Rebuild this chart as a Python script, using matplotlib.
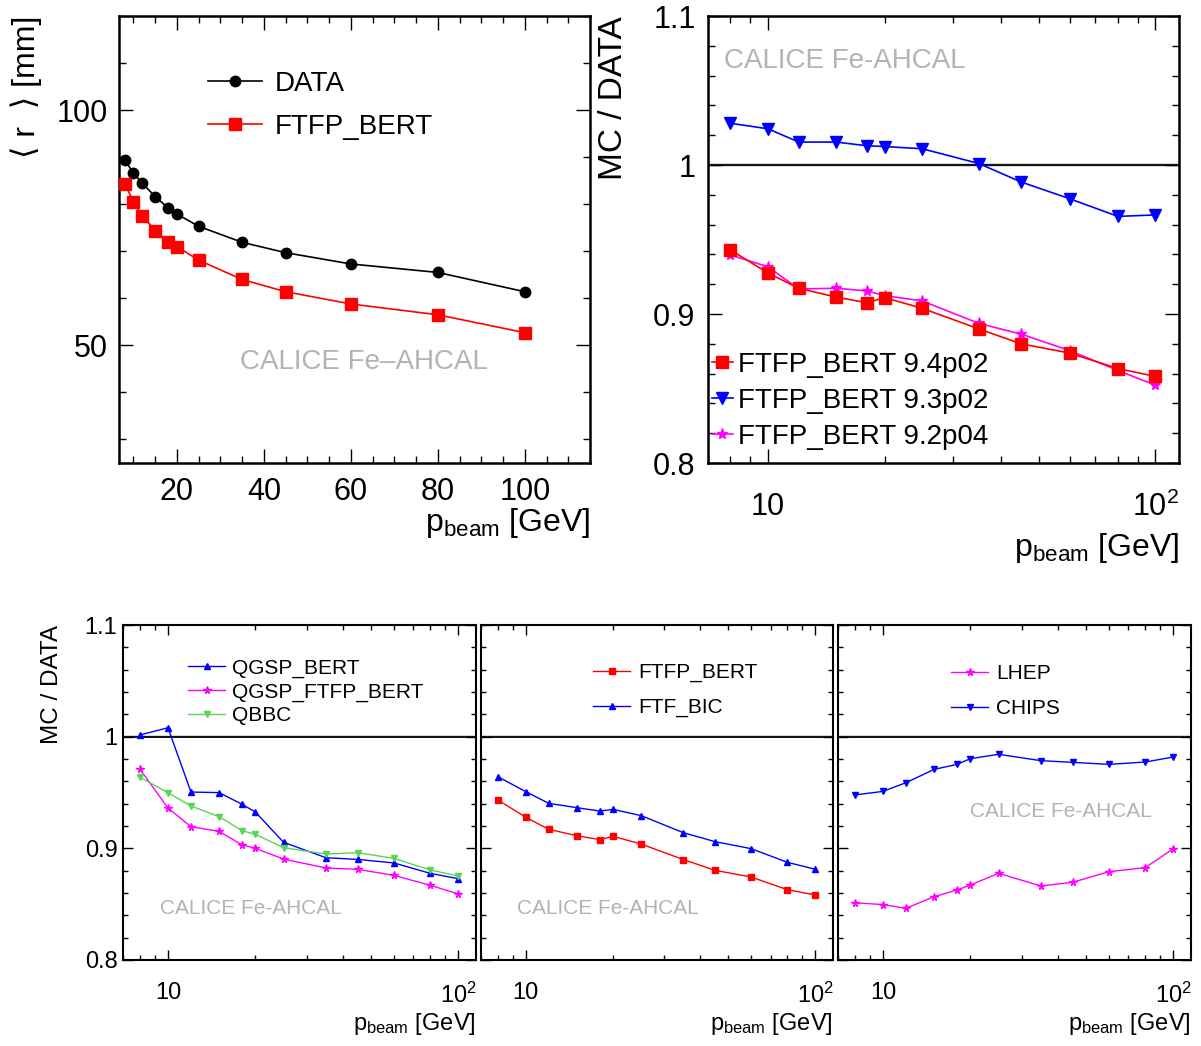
import numpy as np
import matplotlib
matplotlib.use('Agg')
import matplotlib.pyplot as plt
from matplotlib.ticker import (MultipleLocator, LogLocator, NullFormatter, FixedLocator,
                               FixedFormatter, FuncFormatter)

plt.rcParams['font.family'] = ['Liberation Sans', 'DejaVu Sans']
plt.rcParams['mathtext.fontset'] = 'custom'
plt.rcParams['mathtext.rm'] = 'Liberation Sans'
plt.rcParams['mathtext.it'] = 'Liberation Sans:italic'
plt.rcParams['mathtext.bf'] = 'Liberation Sans:bold'

# ---------------- data ----------------
energy = [8, 10, 12, 15, 18, 20, 25, 35, 45, 60, 80, 100]

r_data = [89.4, 86.6, 84.5, 81.6, 79.2, 77.9, 75.3, 71.9, 69.7, 67.3, 65.5, 61.4]
r_ftfp = [84.4, 80.5, 77.6, 74.4, 71.9, 71.0, 68.1, 64.0, 61.4, 58.8, 56.5, 52.7]

ratio_ftfp_94p02 = [0.943, 0.9275, 0.9173, 0.9113, 0.9076, 0.911, 0.9038, 0.890, 0.880, 0.8738, 0.8634, 0.8581]
ratio_ftfp_93p02 = [1.028, 1.0243, 1.0154, 1.0154, 1.0129, 1.0124, 1.0109, 1.001, 0.9886, 0.9774, 0.9655, 0.9665]
ratio_ftfp_92p04 = [0.9396, 0.9317, 0.9168, 0.9173, 0.9155, 0.9123, 0.9088, 0.8937, 0.8865, 0.8755, 0.8621, 0.8522]

ratio_qgsp_bert = [1.0015, 1.008, 0.9504, 0.9499, 0.9394, 0.9325, 0.9054, 0.8916, 0.8901, 0.8869, 0.8776, 0.8728]
ratio_qgsp_ftfp_bert = [0.971, 0.9361, 0.9194, 0.9152, 0.903, 0.900, 0.8904, 0.8824, 0.8812, 0.8758, 0.8669, 0.8591]
ratio_qbbc = [0.9636, 0.9499, 0.9379, 0.9284, 0.9158, 0.9125, 0.9006, 0.8949, 0.8961, 0.8910, 0.8806, 0.8752]

ratio_ftfp_bert = [0.9433, 0.9278, 0.917, 0.9113, 0.9078, 0.9107, 0.9039, 0.8899, 0.8803, 0.8743, 0.863, 0.8582]
ratio_ftf_bic = [0.9642, 0.9507, 0.9403, 0.9364, 0.9334, 0.9349, 0.9293, 0.914, 0.906, 0.8997, 0.8875, 0.8812]

ratio_lhep = [0.8513, 0.8496, 0.8463, 0.8567, 0.8627, 0.8672, 0.8776, 0.8663, 0.8696, 0.8791, 0.8827, 0.8997]
ratio_chips = [0.9478, 0.951, 0.9588, 0.9707, 0.9752, 0.9803, 0.9842, 0.9785, 0.977, 0.9752, 0.9773, 0.9818]

log_ticks = [10, 100]
log_ticklabels = ['10', r'$\mathregular{10^2}$']

RED = '#ff0000'
BLUE = '#0000ff'
MAG = '#ff00ff'
GREEN = '#59d454'
GRAY = '#b3b3b3'

W, H = 1201, 1046
fig = plt.figure(figsize=(W / 100, H / 100), dpi=100)


def rect(l, r, t, b):
    return [l / W, (H - b) / H, (r - l) / W, (b - t) / H]


def style(ax, lw, maj, mnr, fs, padx, pady):
    for s in ax.spines.values():
        s.set_linewidth(lw)
    ax.tick_params(which='both', direction='in', top=True, right=True, width=1.0, labelsize=fs)
    ax.tick_params(which='major', length=maj)
    ax.tick_params(which='minor', length=mnr)
    ax.tick_params(axis='x', which='both', pad=padx)
    ax.tick_params(axis='y', which='both', pad=pady)


def unity(ax):
    xs = [7.0, 115.0]
    ax.fill_between(xs, [0.9985, 0.9985], [1.0015, 1.0015], color='#d8d8d8', lw=0, zorder=1)
    ax.axhline(1.0, color='black', lw=1.3, zorder=2)


def ratio_axes(ax):
    ax.set_xscale('log')
    ax.set_xlim(7.0, 115.0)
    ax.set_ylim(0.8, 1.1)
    ax.xaxis.set_major_locator(FixedLocator(log_ticks))
    ax.xaxis.set_major_formatter(FixedFormatter(log_ticklabels))
    ax.xaxis.set_minor_locator(LogLocator(base=10, subs=np.arange(2, 10)))
    ax.xaxis.set_minor_formatter(NullFormatter())
    ax.yaxis.set_major_locator(MultipleLocator(0.1))
    ax.yaxis.set_minor_locator(MultipleLocator(0.02))
    ax.yaxis.set_major_formatter(FuncFormatter(lambda v, p: '%g' % round(v, 3)))


xlab = r'$\mathregular{p_{beam}}$ [GeV]'

# ---------------- top-left ----------------
ax1 = fig.add_axes(rect(119, 590, 16, 463))
ax1.plot(energy, r_data, color='black', lw=1.2, marker='o', ms=7.5, label='DATA', zorder=3)
ax1.plot(energy, r_ftfp, color=RED, lw=1.2, marker='s', ms=8, label='FTFP_BERT', zorder=3)
ax1.set_xlim(6.67, 115)
ax1.set_ylim(25, 120)
ax1.xaxis.set_major_locator(MultipleLocator(20))
ax1.xaxis.set_minor_locator(MultipleLocator(5))
ax1.yaxis.set_major_locator(MultipleLocator(50))
ax1.yaxis.set_minor_locator(MultipleLocator(10))
style(ax1, 1.8, 10, 5, 22, 10, 8)
ax1.set_ylabel('\u27e8 r  \u27e9 [mm]', fontsize=23, loc='top')
ax1.yaxis.set_label_coords(-0.163, 1.0)
ax1.set_xlabel(xlab, fontsize=23, loc='right')
ax1.xaxis.set_label_coords(1.0, -0.097)
ax1.text(0.257, 0.225, 'CALICE Fe\u2013AHCAL', transform=ax1.transAxes, fontsize=20,
         color=GRAY, ha='left', va='center')
ax1.legend(loc='upper left', bbox_to_anchor=(0.189, 0.877), frameon=False, fontsize=20,
           handlelength=1.94, handletextpad=0.47, labelspacing=0.62, borderpad=0, borderaxespad=0)

# ---------------- top-right ----------------
ax2 = fig.add_axes(rect(708, 1179, 16, 463))
unity(ax2)
ax2.plot(energy, ratio_ftfp_94p02, color=RED, lw=1.2, marker='s', ms=8, label='FTFP_BERT 9.4p02', zorder=4)
ax2.plot(energy, ratio_ftfp_93p02, color=BLUE, lw=1.2, marker='v', ms=8, label='FTFP_BERT 9.3p02', zorder=3)
ax2.plot(energy, ratio_ftfp_92p04, color=MAG, lw=1.2, marker='*', ms=8, label='FTFP_BERT 9.2p04', zorder=3)
ratio_axes(ax2)
style(ax2, 1.8, 10, 5, 22, 21, 9)
ax2.set_ylabel('MC / DATA', fontsize=24, loc='top')
ax2.yaxis.set_label_coords(-0.168, 1.0)
ax2.set_xlabel(xlab, fontsize=23, loc='right')
ax2.xaxis.set_label_coords(1.0, -0.152)
ax2.text(0.034, 0.899, 'CALICE Fe-AHCAL', transform=ax2.transAxes, fontsize=20,
         color=GRAY, ha='left', va='center')
ax2.legend(loc='upper left', bbox_to_anchor=(0.008, 0.248), frameon=False, fontsize=20,
           handlelength=0.75, handletextpad=0.2, labelspacing=0.36, borderpad=0, borderaxespad=0)

# ---------------- bottom panels ----------------
axb1 = fig.add_axes(rect(123, 476, 625, 960))
axb2 = fig.add_axes(rect(481, 833, 625, 960))
axb3 = fig.add_axes(rect(838, 1191, 625, 960))

for a in (axb1, axb2, axb3):
    unity(a)
    ratio_axes(a)
    style(a, 1.5, 7, 3.6, 17, 16, 4)
    a.set_xlabel(xlab, fontsize=17, loc='right')
    a.xaxis.set_label_coords(1.0, -0.152)

axb2.tick_params(axis='y', labelleft=False)
axb3.tick_params(axis='y', labelleft=False)
axb1.set_ylabel('MC / DATA', fontsize=17.5, loc='top')
axb1.yaxis.set_label_coords(-0.17, 1.0)

axb1.plot(energy, ratio_qgsp_bert, color=BLUE, lw=1.0, marker='^', ms=5, label='QGSP_BERT', zorder=3)
axb1.plot(energy, ratio_qgsp_ftfp_bert, color=MAG, lw=1.0, marker='*', ms=5.5, label='QGSP_FTFP_BERT', zorder=3)
axb1.plot(energy, ratio_qbbc, color=GREEN, lw=1.0, marker='v', ms=5, label='QBBC', zorder=3)
axb1.legend(loc='upper left', bbox_to_anchor=(0.184, 0.900), frameon=False, fontsize=15,
            handlelength=1.8, handletextpad=0.33, labelspacing=0.22, borderpad=0, borderaxespad=0)
axb1.text(0.105, 0.155, 'CALICE Fe-AHCAL', transform=axb1.transAxes, fontsize=15,
          color=GRAY, ha='left', va='center')

axb2.plot(energy, ratio_ftfp_bert, color=RED, lw=1.0, marker='s', ms=5, label='FTFP_BERT', zorder=3)
axb2.plot(energy, ratio_ftf_bic, color=BLUE, lw=1.0, marker='^', ms=5, label='FTF_BIC', zorder=3)
axb2.legend(loc='upper left', bbox_to_anchor=(0.318, 0.886), frameon=False, fontsize=15,
            handlelength=1.8, handletextpad=0.38, labelspacing=0.75, borderpad=0, borderaxespad=0)
axb2.text(0.102, 0.155, 'CALICE Fe-AHCAL', transform=axb2.transAxes, fontsize=15,
          color=GRAY, ha='left', va='center')

axb3.plot(energy, ratio_lhep, color=MAG, lw=1.0, marker='*', ms=5.5, label='LHEP', zorder=3)
axb3.plot(energy, ratio_chips, color=BLUE, lw=1.0, marker='v', ms=5, label='CHIPS', zorder=3)
axb3.legend(loc='upper left', bbox_to_anchor=(0.32, 0.883), frameon=False, fontsize=15,
            handlelength=1.8, handletextpad=0.38, labelspacing=0.75, borderpad=0, borderaxespad=0)
axb3.text(0.374, 0.442, 'CALICE Fe-AHCAL', transform=axb3.transAxes, fontsize=15,
          color=GRAY, ha='left', va='center')

fig.savefig('out.png', dpi=100)
